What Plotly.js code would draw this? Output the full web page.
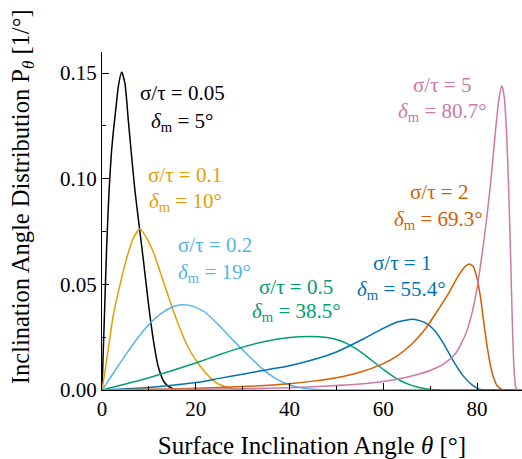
<!DOCTYPE html>
<html>
<head>
<meta charset="utf-8">
<script src="https://cdn.plot.ly/plotly-3.0.1.min.js"></script>
<style>html,body{margin:0;padding:0;background:#fff;}#chart{width:522px;height:459px;}</style>
</head>
<body>
<div id="chart"></div>
<script>
// Curve readings (theta in degrees, P in 1/deg)
const theta_005 = [0, 0.5, 1, 1.5, 2, 2.5, 3, 3.5, 4.2, 4.9, 5.6, 6.3, 7.0, 7.75, 8.8, 9.9, 11, 12, 13.4, 15, 17, 89.6];
const p_005     = [0, 0.034, 0.068, 0.094, 0.112, 0.124, 0.134, 0.144, 0.1505, 0.145, 0.128, 0.111, 0.095, 0.081, 0.062, 0.041, 0.023, 0.011, 0.0033, 0.0007, 0, 0];

const theta_01 = [0, 0.64, 1.35, 2.42, 3.84, 5.26, 6.68, 8.1, 9.5, 11, 12.7, 14.5, 16.3, 18.4, 20.9, 23, 24.5, 27.3, 30, 89.6];
const p_01     = [0, 0.0087, 0.0197, 0.0355, 0.0498, 0.0624, 0.0719, 0.0762, 0.072, 0.065, 0.054, 0.042, 0.031, 0.020, 0.0115, 0.006, 0.0032, 0.0008, 0, 0];

const theta_02 = [0, 2.5, 5, 7.5, 10, 12.5, 15, 17, 19.5, 22, 25, 28, 31, 34, 37, 40, 43, 46, 49, 89.6];
const p_02     = [0, 0.0083, 0.0165, 0.0243, 0.031, 0.036, 0.0393, 0.0403, 0.0396, 0.0368, 0.0305, 0.0235, 0.0168, 0.0105, 0.0055, 0.0024, 0.0008, 0.0002, 0, 0];

const theta_05 = [0, 5, 10, 15, 20, 25, 30, 35, 40, 44.5, 48, 51, 54, 57, 60, 63, 66, 69, 72, 89.6];
const p_05     = [0, 0.0028, 0.0058, 0.0092, 0.0128, 0.0167, 0.0203, 0.0231, 0.0248, 0.0253, 0.0248, 0.0232, 0.0198, 0.015, 0.0098, 0.0052, 0.0022, 0.0006, 0, 0];

const theta_1 = [0, 10, 20, 25, 30, 35, 40, 45, 50, 55, 60, 63, 66.5, 69, 71, 73, 75, 77, 79, 80.5, 82, 89.6];
const p_1     = [0, 0.0012, 0.0035, 0.0055, 0.0075, 0.0095, 0.0115, 0.0143, 0.018, 0.0233, 0.0292, 0.0322, 0.0335, 0.0318, 0.028, 0.0215, 0.0135, 0.0068, 0.0023, 0.0004, 0, 0];

const theta_2 = [0, 10, 20, 30, 40, 45, 50, 55, 60, 63, 66, 69, 72, 74, 76, 77.5, 78.3, 79.2, 80, 80.7, 81.3, 82, 82.7, 83.5, 84.3, 85.2, 86, 89.6];
const p_2     = [0, 0.0003, 0.0008, 0.0016, 0.003, 0.0042, 0.0058, 0.0084, 0.0125, 0.0162, 0.0215, 0.029, 0.039, 0.046, 0.054, 0.0585, 0.0596, 0.0585, 0.053, 0.0445, 0.0345, 0.023, 0.0135, 0.006, 0.002, 0.0004, 0, 0];

const theta_5 = [0, 20, 35, 45, 55, 60, 65, 70, 73, 75.5, 77.5, 79, 80, 81, 82, 83, 84, 84.7, 85.3, 85.8, 86.3, 86.7, 87, 87.3, 87.6, 87.9, 88.2, 88.6, 89.6];
const p_5     = [0, 0.0003, 0.0008, 0.0015, 0.0028, 0.004, 0.006, 0.0092, 0.0125, 0.0175, 0.026, 0.037, 0.048, 0.063, 0.08, 0.1, 0.124, 0.138, 0.144, 0.139, 0.122, 0.099, 0.077, 0.052, 0.027, 0.01, 0.002, 0, 0];

const seriesNames = ["σ/τ = 0.05", "σ/τ = 0.1", "σ/τ = 0.2", "σ/τ = 0.5", "σ/τ = 1", "σ/τ = 2", "σ/τ = 5"];
const deltaLabels = ["5°", "10°", "19°", "38.5°", "55.4°", "69.3°", "80.7°"];
const xTicks = [0, 20, 40, 60, 80];
const yTicks = [0, 0.05, 0.10, 0.15];

const SERIF = "Liberation Serif";
const colors = ["#000000", "#E69F00", "#56B4E9", "#009E73", "#0072B2", "#D55E00", "#CC79A7"];
const xs = [theta_005, theta_01, theta_02, theta_05, theta_1, theta_2, theta_5];
const ys = [p_005, p_01, p_02, p_05, p_1, p_2, p_5];

const traces = xs.map((x, i) => ({
  x: x, y: ys[i], type: "scatter", mode: "lines", name: seriesNames[i],
  line: {color: colors[i], width: 1.5, shape: "spline", smoothing: 0.6},
  hoverinfo: "skip"
}));

// label anchor positions (data coords): [x, y line1, y line2]
const labelPos = [
  [17.1, 0.1408, 0.1270],
  [17.8, 0.1019, 0.0891],
  [24.1, 0.0687, 0.0555],
  [41.4, 0.0488, 0.0370],
  [63.9, 0.0602, 0.0474],
  [71.8, 0.0938, 0.0806],
  [72.6, 0.1445, 0.1318]
];
const annotations = [];
labelPos.forEach((p, i) => {
  annotations.push({x: p[0], y: p[1], xref: "x", yref: "y", text: seriesNames[i], showarrow: false,
    font: {family: SERIF, size: 21, color: colors[i]}, xanchor: "center", yanchor: "middle"});
  annotations.push({x: p[0], y: p[2], xref: "x", yref: "y", text: "<i>δ</i><sub>m</sub> = " + deltaLabels[i], showarrow: false,
    font: {family: SERIF, size: 21, color: colors[i]}, xanchor: "center", yanchor: "middle"});
});
// y-axis title
annotations.push({x: -0.19, y: 0.571, xref: "paper", yref: "paper", textangle: -90, showarrow: false,
  text: "Inclination Angle Distribution P<sub><i>θ</i></sub> [1/°]",
  font: {family: SERIF, size: 24.5, color: "#000"}, xanchor: "center", yanchor: "middle"});

const layout = {
  width: 522, height: 459,
  margin: {l: 102, r: 0, t: 52, b: 69},
  paper_bgcolor: "#fff", plot_bgcolor: "#fff",
  showlegend: false,
  font: {family: SERIF, size: 20, color: "#000"},
  xaxis: {
    range: [0, 89.6], showgrid: false, zeroline: false,
    showline: true, linecolor: "#000", linewidth: 1,
    ticks: "inside", ticklen: 7, tickwidth: 1, tickcolor: "#000",
    tickvals: xTicks, ticktext: xTicks.map(String),
    minor: {ticks: "inside", ticklen: 4, tickwidth: 1, tickcolor: "#000", tickvals: [10, 30, 50, 70]},
    tickfont: {family: SERIF, size: 21},
    title: {text: "Surface Inclination Angle <i>θ</i> [°]", font: {family: SERIF, size: 25}, standoff: 16}
  },
  yaxis: {
    range: [0, 0.16], showgrid: false, zeroline: false,
    showline: true, linecolor: "#000", linewidth: 1,
    ticks: "inside", ticklen: 7, tickwidth: 1, tickcolor: "#000",
    tickvals: yTicks, ticktext: yTicks.map(v => v.toFixed(2)),
    minor: {ticks: "inside", ticklen: 4, tickwidth: 1, tickcolor: "#000", tickvals: [0.025, 0.075, 0.125]},
    tickfont: {family: SERIF, size: 21}
  },
  annotations: annotations
};

Plotly.newPlot("chart", traces, layout, {displayModeBar: false, staticPlot: true});
</script>
</body>
</html>
